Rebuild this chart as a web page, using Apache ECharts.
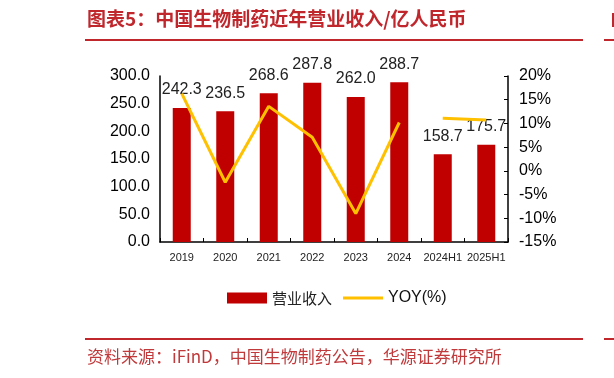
<!DOCTYPE html>
<html>
<head>
<meta charset="utf-8">
<script src="https://cdn.jsdelivr.net/npm/echarts@6/dist/echarts.min.js"></script>
<style>
  html, body { margin: 0; padding: 0; background: #fff; }
  #chart { width: 614px; height: 378px; }
</style>
</head>
<body>
<div id="chart"></div>
<script>
// data
let categories = ['2019', '2020', '2021', '2022', '2023', '2024', '2024H1', '2025H1'];
let revenue    = [242.3, 236.5, 268.6, 287.8, 262.0, 288.7, 158.7, 175.7];
let yoyYears   = [16.3, -2.4, 13.6, 7.1, -9.0, 10.2, null, null];
let yoyHalf    = [null, null, null, null, null, null, 11.1, 10.7];
let leftTicks  = [0, 300, 50];
let rightTicks = [-15, 20, 5];

let red   = '#C00000';
let gold  = '#FFC000';
let titleRed = '#C0272D';

let chart = echarts.init(document.getElementById('chart'));

let option = {
    animation: false,
    textStyle: { fontFamily: 'Liberation Sans, Arial, sans-serif' },
    grid: { left: 160, right: 106, top: 76, height: 166 },
    graphic: [
        { type: 'text', left: 87, top: 9,
          style: { text: '图表5：中国生物制药近年营业收入/亿人民币', fill: titleRed,
                   font: 'bold 19px "Noto Sans CJK SC"' } },
        { type: 'line', shape: { x1: 85, y1: 40, x2: 583, y2: 40 },
          style: { stroke: titleRed, lineWidth: 2 } },
        { type: 'line', shape: { x1: 604, y1: 40, x2: 614, y2: 40 },
          style: { stroke: titleRed, lineWidth: 2 } },
        { type: 'rect', shape: { x: 612, y: 13, width: 2, height: 14 },
          style: { fill: titleRed } },
        { type: 'line', shape: { x1: 85, y1: 339, x2: 583, y2: 339 },
          style: { stroke: titleRed, lineWidth: 2 } },
        { type: 'line', shape: { x1: 604, y1: 339, x2: 614, y2: 339 },
          style: { stroke: titleRed, lineWidth: 2 } },
        { type: 'text', left: 87, top: 348,
          style: { text: '资料来源：iFinD，中国生物制药公告，华源证券研究所', fill: '#C0393B',
                   font: '17px "Noto Sans CJK SC"' } }
    ],
    legend: {
        top: 285,
        left: 222,
        itemGap: 11,
        itemWidth: 40,
        itemHeight: 11,
        data: [
            { name: '营业收入', icon: 'rect' },
            { name: 'YOY(%)', icon: 'path://M0,0 L40,0 L40,3 L0,3 Z' }
        ],
        formatter: function(name){
            return name === '营业收入' ? '{a|' + name + '}' : '{b|' + name + '}';
        },
        textStyle: {
            rich: {
                a: { fontSize: 15, color: '#222', fontFamily: 'Noto Sans CJK SC' },
                b: { fontSize: 16, color: '#111' }
            }
        }
    },
    xAxis: {
        type: 'category',
        data: categories,
        axisLine: { lineStyle: { color: '#000', width: 1.5 } },
        axisTick: { show: true, inside: true, length: 4, lineStyle: { color: '#000' } },
        axisLabel: { color: '#222', fontSize: 11, margin: 10, interval: 0 }
    },
    yAxis: [
        {
            type: 'value',
            min: leftTicks[0], max: leftTicks[1], interval: leftTicks[2],
            axisLine: { show: true, lineStyle: { color: '#000', width: 1.5 } },
            axisTick: { show: false },
            splitLine: { show: false },
            axisLabel: { color: '#000', fontSize: 16, margin: 10,
                         formatter: function(v){ return v.toFixed(1); } }
        },
        {
            type: 'value',
            position: 'right',
            min: rightTicks[0], max: rightTicks[1], interval: rightTicks[2],
            axisLine: { show: true, lineStyle: { color: '#000', width: 1.5 } },
            axisTick: { show: true, inside: true, length: 4, lineStyle: { color: '#000' } },
            splitLine: { show: false },
            axisLabel: { color: '#000', fontSize: 16, margin: 11,
                         formatter: function(v){ return v + '%'; } }
        }
    ],
    series: [
        {
            name: '营业收入',
            type: 'bar',
            data: revenue,
            barWidth: 18,
            itemStyle: { color: red },
            label: { show: true, position: 'top', distance: 10, color: '#222', fontSize: 16,
                     formatter: function(p){ return p.value.toFixed(1); } },
            z: 2
        },
        {
            name: 'YOY(%)',
            type: 'line',
            yAxisIndex: 1,
            data: yoyYears,
            symbol: 'none',
            lineStyle: { color: gold, width: 3 },
            itemStyle: { color: gold },
            z: 3
        },
        {
            name: 'YOY(%)',
            type: 'line',
            yAxisIndex: 1,
            data: yoyHalf,
            symbol: 'none',
            lineStyle: { color: gold, width: 3 },
            itemStyle: { color: gold },
            z: 3
        }
    ]
};

chart.setOption(option);
</script>
</body>
</html>
